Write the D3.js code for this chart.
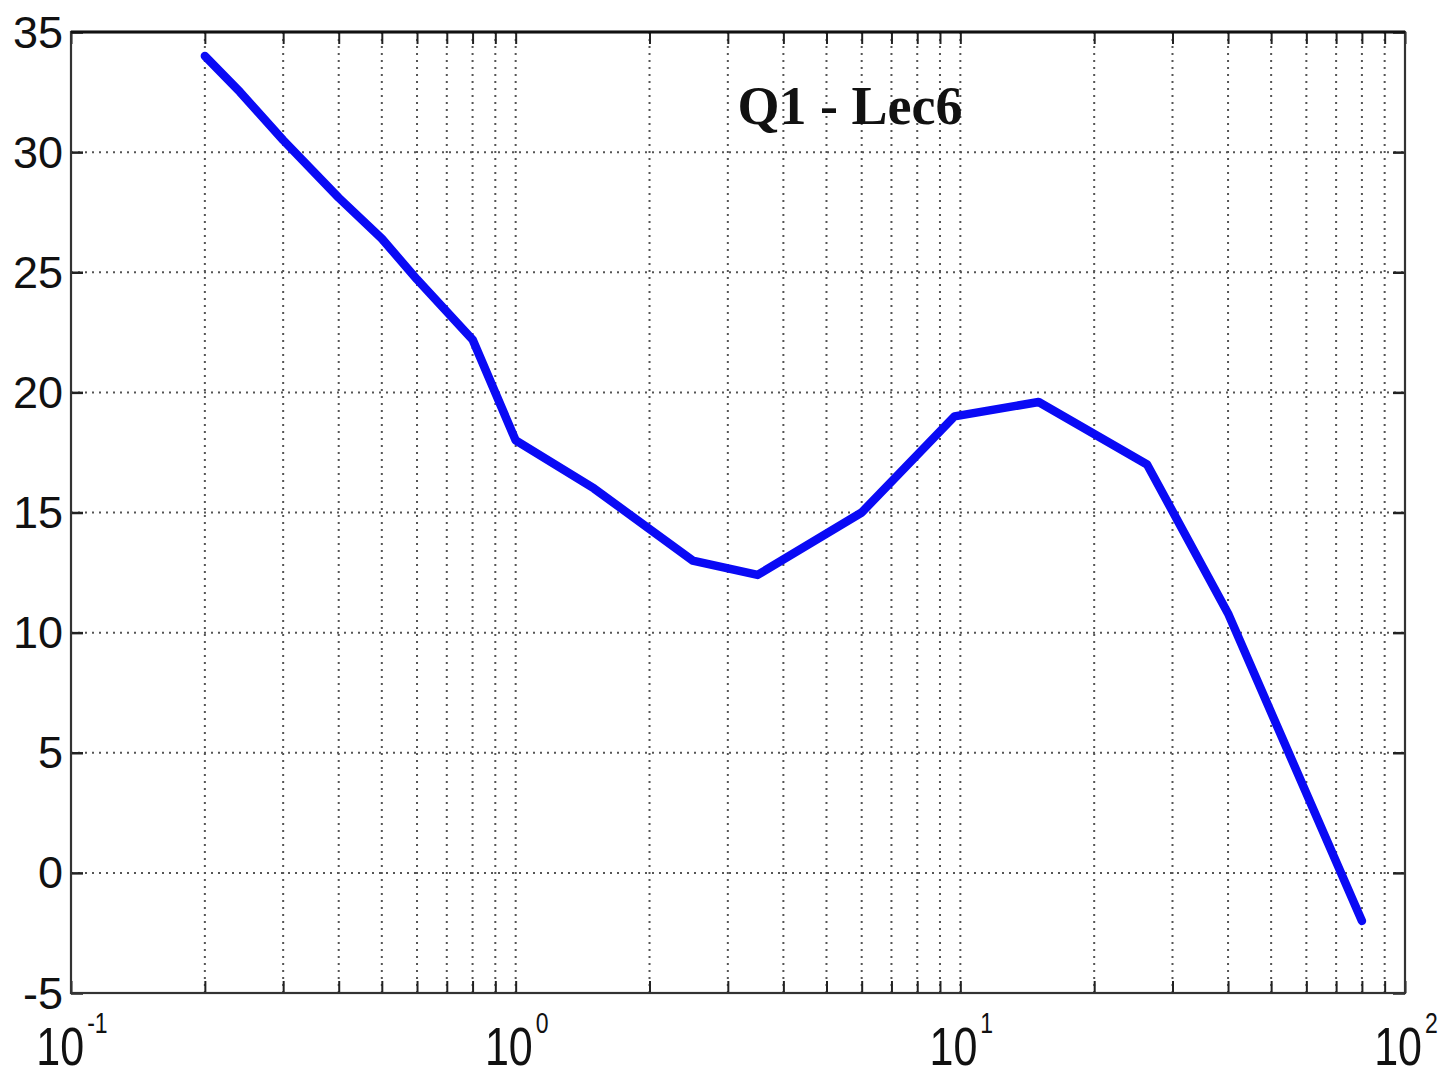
<!DOCTYPE html>
<html>
<head>
<meta charset="utf-8">
<script src="https://cdn.jsdelivr.net/npm/d3@7"></script>
<style>
html,body{margin:0;padding:0;background:#fff;}
svg{display:block;}
</style>
</head>
<body>
<svg id="chart" width="1443" height="1076"></svg>
<script>
const xValues = [0.2, 0.24, 0.3, 0.4, 0.5, 0.6, 0.8, 1, 1.5, 2.5, 3.5, 6, 9.7, 15, 26.3, 40, 80];
const yValues = [34, 32.5, 30.5, 28.1, 26.4, 24.7, 22.2, 18, 16, 13, 12.4, 15, 19, 19.6, 17, 10.8, -2];
const yTicks = [-5, 0, 5, 10, 15, 20, 25, 30, 35];
const xMajorExps = [-1, 0, 1, 2];
const titleText = "Q1 - Lec6";

const svg = d3.select("#chart");
const L = 71, R = 1405, T = 32, B = 993;

const x = d3.scaleLog().domain([0.1, 100]).range([L, R]);
const y = d3.scaleLinear().domain([-5, 35]).range([B, T]);

// all x grid positions (majors + minors)
const xGrid = [];
for (let e = -1; e < 2; e++) {
  for (let m = 1; m <= 9; m++) xGrid.push(m * Math.pow(10, e));
}
xGrid.push(100);

const grid = svg.append("g");
grid.selectAll("line.vx").data(xGrid.filter(v => v > 0.1 && v < 100)).join("line")
  .attr("x1", d => x(d)).attr("x2", d => x(d)).attr("y1", T).attr("y2", B)
  .attr("stroke", "#555").attr("stroke-width", 2).attr("stroke-dasharray", "2,5");
grid.selectAll("line.hy").data(yTicks.filter(v => v > -5 && v < 35)).join("line")
  .attr("x1", L).attr("x2", R).attr("y1", d => y(d)).attr("y2", d => y(d))
  .attr("stroke", "#555").attr("stroke-width", 2).attr("stroke-dasharray", "2,5");

// ticks using d3 axes (inward)
const tickFmt = () => "";
svg.append("g").attr("transform", `translate(0,${B})`)
  .call(d3.axisTop(x).tickValues(xGrid).tickSize(12).tickFormat(tickFmt))
  .call(g => g.select(".domain").remove())
  .selectAll("line").attr("stroke", "#222").attr("stroke-width", 2);
svg.append("g").attr("transform", `translate(0,${T})`)
  .call(d3.axisBottom(x).tickValues(xGrid).tickSize(12).tickFormat(tickFmt))
  .call(g => g.select(".domain").remove())
  .selectAll("line").attr("stroke", "#222").attr("stroke-width", 2);
svg.append("g").attr("transform", `translate(${L},0)`)
  .call(d3.axisRight(y).tickValues(yTicks).tickSize(12).tickFormat(tickFmt))
  .call(g => g.select(".domain").remove())
  .selectAll("line").attr("stroke", "#222").attr("stroke-width", 2.5);
svg.append("g").attr("transform", `translate(${R},0)`)
  .call(d3.axisLeft(y).tickValues(yTicks).tickSize(12).tickFormat(tickFmt))
  .call(g => g.select(".domain").remove())
  .selectAll("line").attr("stroke", "#222").attr("stroke-width", 2.5);

// frame
svg.append("rect").attr("x", L).attr("y", T).attr("width", R - L).attr("height", B - T)
  .attr("fill", "none").attr("stroke", "#333").attr("stroke-width", 2.2);
svg.append("line").attr("x1", L).attr("x2", R).attr("y1", T).attr("y2", T)
  .attr("stroke", "#111").attr("stroke-width", 3);

// y tick labels
svg.append("g").selectAll("text").data(yTicks).join("text")
  .attr("x", L - 8).attr("y", d => y(d))
  .attr("text-anchor", "end").attr("dominant-baseline", "central")
  .attr("font-family", "Liberation Sans, Arial, sans-serif")
  .attr("font-size", 45).attr("fill", "#111")
  .text(d => d);

// x tick labels 10^e
const xl = svg.append("g").selectAll("text").data(xMajorExps).join("text")
  .attr("transform", d => `translate(${x(Math.pow(10, d)) + 1},1065) scale(1,1.25)`)
  .attr("text-anchor", "middle")
  .attr("font-family", "Liberation Sans, Arial, sans-serif")
  .attr("fill", "#111");
xl.append("tspan").attr("font-size", 43).text("10");
xl.append("tspan").attr("font-size", 23).attr("dy", -26).attr("dx", 3).text(d => String(d));

// line
const line = d3.line().x(d => x(d[0])).y(d => y(d[1]));
svg.append("path").datum(xValues.map((v, i) => [v, yValues[i]]))
  .attr("d", line).attr("fill", "none")
  .attr("stroke", "#0a0af5").attr("stroke-width", 8.5)
  .attr("stroke-linejoin", "round").attr("stroke-linecap", "round");

// title
svg.append("text").attr("x", 850).attr("y", 124)
  .attr("text-anchor", "middle")
  .attr("font-family", "Liberation Serif, Times New Roman, serif")
  .attr("font-weight", "bold").attr("font-size", 54).attr("fill", "#111")
  .text(titleText);
</script>
</body>
</html>
